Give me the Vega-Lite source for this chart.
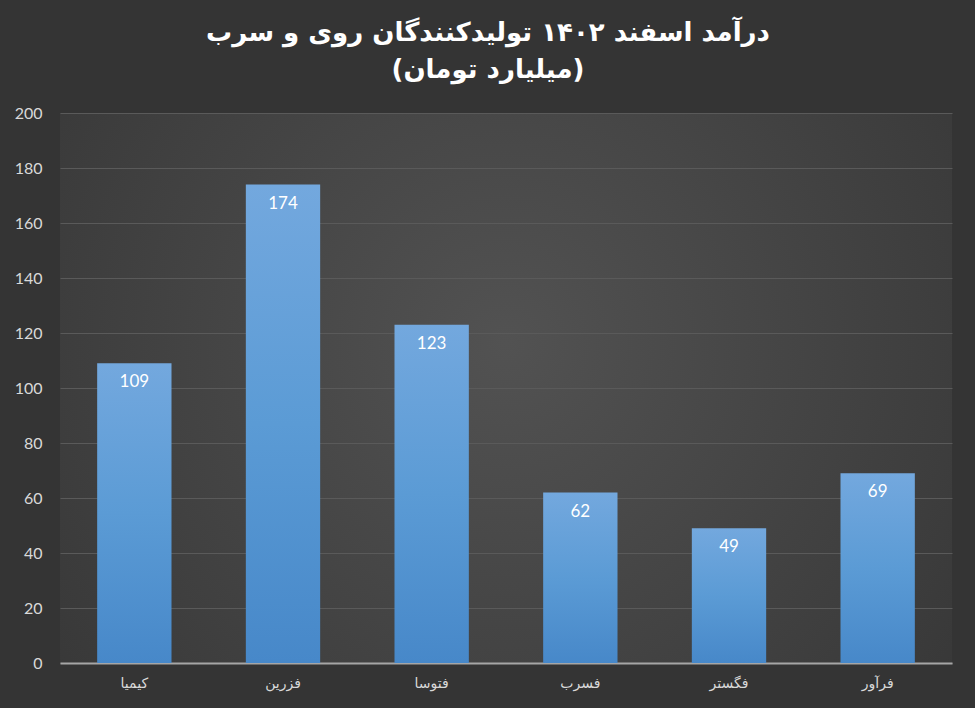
{
  "$schema": "https://vega.github.io/schema/vega-lite/v6.json",
  "width": 975,
  "height": 708,
  "autosize": {"type": "fit", "contains": "padding"},
  "padding": {"top": 20, "left": 14, "right": 23, "bottom": 18},
  "background": "#343434",
  "title": {
    "text": ["درآمد اسفند ۱۴۰۲ تولیدکنندگان روی و سرب", "(میلیارد تومان)"],
    "font": "DejaVu Sans",
    "fontSize": 26,
    "fontWeight": "bold",
    "color": "#ffffff",
    "lineHeight": 37,
    "anchor": "middle",
    "frame": "group",
    "dx": -18,
    "offset": 22
  },
  "data": {
    "values": [
      {"company": "کیمیا", "revenue": 109},
      {"company": "فزرین", "revenue": 174},
      {"company": "فتوسا", "revenue": 123},
      {"company": "فسرب", "revenue": 62},
      {"company": "فگستر", "revenue": 49},
      {"company": "فرآور", "revenue": 69}
    ]
  },
  "encoding": {
    "x": {
      "field": "company",
      "type": "nominal",
      "sort": null,
      "title": null,
      "scale": {"paddingInner": 0.5, "paddingOuter": 0.25},
      "axis": {
        "labelAngle": 0,
        "labelFont": "DejaVu Sans",
        "labelFontSize": 14,
        "labelColor": "#d9d9d9",
        "labelPadding": 13,
        "ticks": false,
        "domainColor": "#a6a6a6",
        "domainWidth": 2,
        "grid": false
      }
    },
    "y": {
      "field": "revenue",
      "type": "quantitative",
      "title": null,
      "scale": {"domain": [0, 200]},
      "axis": {
        "values": [0, 20, 40, 60, 80, 100, 120, 140, 160, 180, 200],
        "labelFont": "Lato",
        "labelFontSize": 16,
        "labelColor": "#d9d9d9",
        "labelPadding": 18,
        "ticks": false,
        "domain": false,
        "grid": true,
        "gridColor": "#5a5a5a",
        "gridWidth": 1.2
      }
    }
  },
  "layer": [
    {
      "mark": {
        "type": "bar",
        "color": {
          "gradient": "linear",
          "x1": 0, "y1": 0, "x2": 0, "y2": 1,
          "stops": [
            {"offset": 0, "color": "#73a8de"},
            {"offset": 0.5, "color": "#5b9bd5"},
            {"offset": 1, "color": "#4788c9"}
          ]
        }
      }
    },
    {
      "mark": {
        "type": "text",
        "baseline": "top",
        "dy": 11,
        "font": "Lato",
        "fontSize": 17,
        "color": "#ffffff"
      },
      "encoding": {
        "text": {"field": "revenue", "type": "quantitative"}
      }
    }
  ],
  "config": {
    "view": {
      "stroke": null,
      "fill": {
        "gradient": "radial",
        "x1": 0.5, "y1": 0.45, "r1": 0,
        "x2": 0.5, "y2": 0.45, "r2": 0.75,
        "stops": [
          {"offset": 0, "color": "#525252"},
          {"offset": 1, "color": "#333333"}
        ]
      }
    }
  }
}
